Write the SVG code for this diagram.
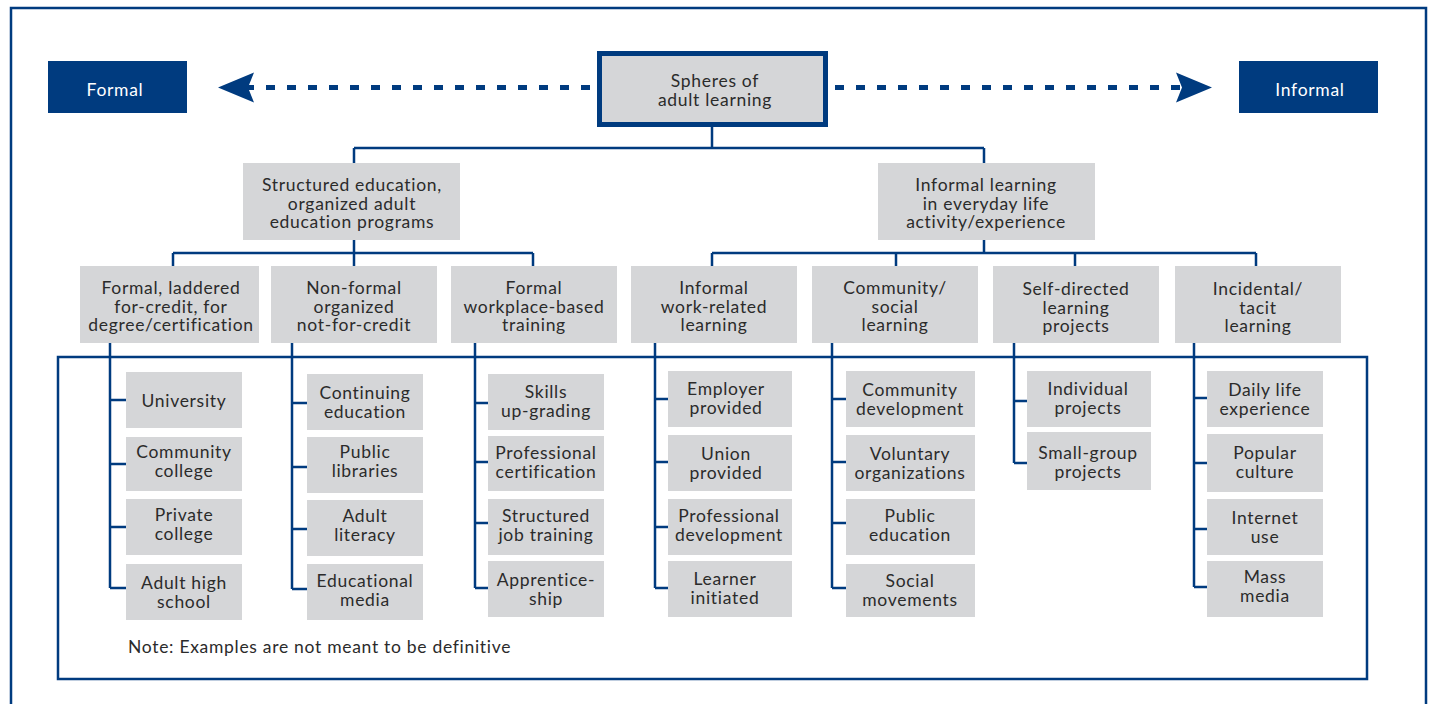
<svg xmlns="http://www.w3.org/2000/svg" width="1432" height="704" viewBox="0 0 1432 704">
<defs>
<style>
.bx{fill:#d5d6d8}
.dk{fill:#003b7f}
.t{font-family:Lato,"Noto Sans",sans-serif;font-size:17.5px;letter-spacing:0.7px;fill:#2b2b2b;text-anchor:middle}
.tw{font-family:Lato,"Noto Sans",sans-serif;font-size:17.5px;letter-spacing:0.7px;fill:#ffffff;text-anchor:middle}
.ln{fill:none;stroke:#003b7f;stroke-width:2.5}
.fr{fill:none;stroke:#003b7f;stroke-width:2.5}
.da{fill:none;stroke:#003b7f;stroke-width:5;stroke-dasharray:9 12;marker-end:url(#ah)}
</style>
<marker id="ah" markerUnits="userSpaceOnUse" markerWidth="40" markerHeight="34" viewBox="-8 -17 40 34" refX="0" refY="0" orient="auto">
<path d="M-6,-15 L30,0 L-6,15 L0,0 Z" fill="#003b7f"/>
</marker>
</defs>
<rect x="0" y="0" width="1432" height="704" fill="#ffffff"/>
<rect class="fr" x="11" y="8" width="1415" height="720"/>
<rect class="fr" x="58" y="357" width="1309" height="322" stroke-width="3"/>

<g id="connectors">
<path class="da" d="M590,87.5 H248"/>
<path class="da" d="M835,87.5 H1182"/>
<path class="ln" d="M712,127 V148 M354,148 H984 M354,148 V163 M984,148 V163"/>
<path class="ln" d="M354,240 V266 M173,253 H533 M173,253 V266 M533,253 V266"/>
<path class="ln" d="M984,240 V253 M712,253 H1256 M712,253 V266 M896,253 V266 M1075,253 V266 M1256,253 V266"/>
<path class="ln" d="M110,343 V588 M110,400 H126 M110,464 H126 M110,527 H126 M110,588 H126"/>
<path class="ln" d="M292,343 V589 M292,403 H307 M292,467 H307 M292,529 H307 M292,589 H307"/>
<path class="ln" d="M475,343 V588 M475,403 H488 M475,462 H488 M475,523 H488 M475,588 H488"/>
<path class="ln" d="M655,343 V588 M655,399 H668 M655,462 H668 M655,527 H668 M655,588 H668"/>
<path class="ln" d="M832,343 V588 M832,399 H846 M832,462 H846 M832,523 H846 M832,588 H846"/>
<path class="ln" d="M1014,343 V463 M1014,401 H1027 M1014,463 H1027"/>
<path class="ln" d="M1194,343 V587 M1194,398 H1207 M1194,463 H1207 M1194,529 H1207 M1194,587 H1207"/>
</g>

<g id="formal"><rect class="dk" x="48" y="61" width="139" height="52"/><text class="tw" x="115" y="96">Formal</text></g>
<g id="informal"><rect class="dk" x="1239" y="61" width="139" height="52"/><text class="tw" x="1310" y="96">Informal</text></g>
<g id="spheres"><rect class="bx" x="599.5" y="53.5" width="226" height="71" stroke="#003b7f" stroke-width="5"/><text class="t" x="715" y="86.5">Spheres of</text><text class="t" x="715" y="105.5">adult learning</text></g>

<g id="structured"><rect class="bx" x="243" y="163" width="217" height="77"/><text class="t" x="352" y="191">Structured education,</text><text class="t" x="352" y="209.5">organized adult</text><text class="t" x="352" y="228">education programs</text></g>
<g id="informal-learning"><rect class="bx" x="878" y="163" width="217" height="77"/><text class="t" x="986" y="191">Informal learning</text><text class="t" x="986" y="209.5">in everyday life</text><text class="t" x="986" y="228">activity/experience</text></g>

<g id="formal-laddered"><rect class="bx" x="80" y="266" width="179" height="77"/><text class="t" x="171" y="294">Formal, laddered</text><text class="t" x="171" y="312.5">for-credit, for</text><text class="t" x="171" y="331">degree/certification</text></g>
<g id="non-formal"><rect class="bx" x="271" y="266" width="166" height="77"/><text class="t" x="354" y="294">Non-formal</text><text class="t" x="354" y="312.5">organized</text><text class="t" x="354" y="331">not-for-credit</text></g>
<g id="workplace"><rect class="bx" x="451" y="266" width="166" height="77"/><text class="t" x="534" y="294">Formal</text><text class="t" x="534" y="312.5">workplace-based</text><text class="t" x="534" y="331">training</text></g>
<g id="work-related"><rect class="bx" x="631" y="266" width="166" height="77"/><text class="t" x="714" y="294">Informal</text><text class="t" x="714" y="312.5">work-related</text><text class="t" x="714" y="331">learning</text></g>
<g id="community-social"><rect class="bx" x="812" y="266" width="166" height="77"/><text class="t" x="895" y="294">Community/</text><text class="t" x="895" y="312.5">social</text><text class="t" x="895" y="331">learning</text></g>
<g id="self-directed"><rect class="bx" x="993" y="266" width="166" height="77"/><text class="t" x="1076" y="295">Self-directed</text><text class="t" x="1076" y="313.5">learning</text><text class="t" x="1076" y="332">projects</text></g>
<g id="incidental"><rect class="bx" x="1175" y="266" width="166" height="77"/><text class="t" x="1258" y="295">Incidental/</text><text class="t" x="1258" y="313.5">tacit</text><text class="t" x="1258" y="332">learning</text></g>

<g id="university"><rect class="bx" x="126" y="372" width="116" height="56"/><text class="t" x="184" y="406.5">University</text></g>
<g id="community-college"><rect class="bx" x="126" y="437" width="116" height="54"/><text class="t" x="184" y="458">Community</text><text class="t" x="184" y="477">college</text></g>
<g id="private-college"><rect class="bx" x="126" y="499" width="116" height="56"/><text class="t" x="184" y="521">Private</text><text class="t" x="184" y="540">college</text></g>
<g id="adult-high-school"><rect class="bx" x="126" y="564" width="116" height="56"/><text class="t" x="184" y="588.5">Adult high</text><text class="t" x="184" y="607.5">school</text></g>

<g id="continuing-education"><rect class="bx" x="307" y="374" width="116" height="56"/><text class="t" x="365" y="399">Continuing</text><text class="t" x="365" y="418">education</text></g>
<g id="public-libraries"><rect class="bx" x="307" y="437" width="116" height="56"/><text class="t" x="365" y="458">Public</text><text class="t" x="365" y="477">libraries</text></g>
<g id="adult-literacy"><rect class="bx" x="307" y="500" width="116" height="56"/><text class="t" x="365" y="521.5">Adult</text><text class="t" x="365" y="540.5">literacy</text></g>
<g id="educational-media"><rect class="bx" x="307" y="564" width="116" height="56"/><text class="t" x="365" y="586.5">Educational</text><text class="t" x="365" y="605.5">media</text></g>

<g id="skills"><rect class="bx" x="488" y="374" width="116" height="56"/><text class="t" x="546" y="398">Skills</text><text class="t" x="546" y="417">up-grading</text></g>
<g id="professional-certification"><rect class="bx" x="488" y="436" width="116" height="55"/><text class="t" x="546" y="459">Professional</text><text class="t" x="546" y="478">certification</text></g>
<g id="structured-job-training"><rect class="bx" x="488" y="499" width="116" height="56"/><text class="t" x="546" y="521.5">Structured</text><text class="t" x="546" y="540.5">job training</text></g>
<g id="apprenticeship"><rect class="bx" x="488" y="561" width="116" height="56"/><text class="t" x="546" y="586">Apprentice-</text><text class="t" x="546" y="605">ship</text></g>

<g id="employer-provided"><rect class="bx" x="668" y="371" width="124" height="56"/><text class="t" x="726" y="394.5">Employer</text><text class="t" x="726" y="413.5">provided</text></g>
<g id="union-provided"><rect class="bx" x="668" y="435" width="124" height="56"/><text class="t" x="726" y="460">Union</text><text class="t" x="726" y="479">provided</text></g>
<g id="professional-development"><rect class="bx" x="668" y="499" width="124" height="56"/><text class="t" x="729" y="521.5">Professional</text><text class="t" x="729" y="540.5">development</text></g>
<g id="learner-initiated"><rect class="bx" x="668" y="561" width="124" height="56"/><text class="t" x="725" y="584.5">Learner</text><text class="t" x="725" y="603.5">initiated</text></g>

<g id="community-development"><rect class="bx" x="846" y="371" width="129" height="56"/><text class="t" x="910" y="396">Community</text><text class="t" x="910" y="415">development</text></g>
<g id="voluntary-organizations"><rect class="bx" x="846" y="435" width="129" height="56"/><text class="t" x="910" y="460">Voluntary</text><text class="t" x="910" y="479">organizations</text></g>
<g id="public-education"><rect class="bx" x="846" y="499" width="129" height="56"/><text class="t" x="910" y="521.5">Public</text><text class="t" x="910" y="540.5">education</text></g>
<g id="social-movements"><rect class="bx" x="846" y="564" width="129" height="53"/><text class="t" x="910" y="586.5">Social</text><text class="t" x="910" y="605.5">movements</text></g>

<g id="individual-projects"><rect class="bx" x="1027" y="371" width="124" height="56"/><text class="t" x="1088" y="394.5">Individual</text><text class="t" x="1088" y="413.5">projects</text></g>
<g id="small-group-projects"><rect class="bx" x="1027" y="432" width="124" height="58"/><text class="t" x="1088" y="459">Small-group</text><text class="t" x="1088" y="478">projects</text></g>

<g id="daily-life"><rect class="bx" x="1207" y="371" width="116" height="56"/><text class="t" x="1265" y="396">Daily life</text><text class="t" x="1265" y="415">experience</text></g>
<g id="popular-culture"><rect class="bx" x="1207" y="434" width="116" height="58"/><text class="t" x="1265" y="459">Popular</text><text class="t" x="1265" y="478">culture</text></g>
<g id="internet-use"><rect class="bx" x="1207" y="499" width="116" height="56"/><text class="t" x="1265" y="523.5">Internet</text><text class="t" x="1265" y="542.5">use</text></g>
<g id="mass-media"><rect class="bx" x="1207" y="561" width="116" height="56"/><text class="t" x="1265" y="583">Mass</text><text class="t" x="1265" y="602">media</text></g>

<text class="t" x="128" y="653" style="text-anchor:start">Note: Examples are not meant to be definitive</text>
</svg>
